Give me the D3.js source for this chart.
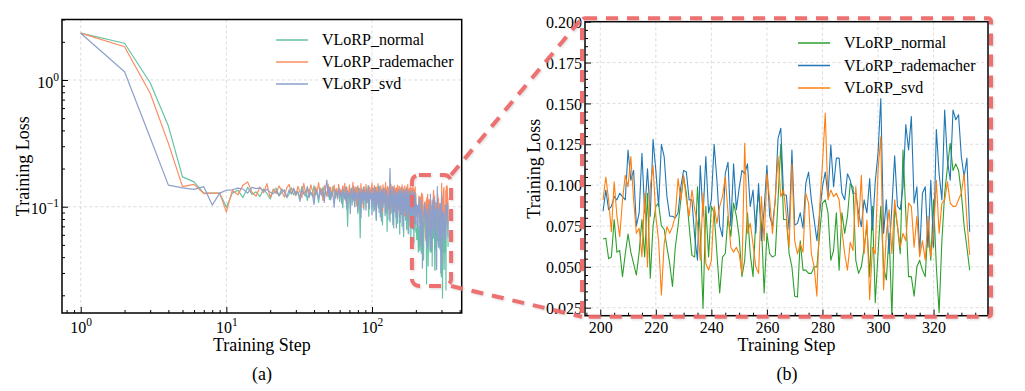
<!DOCTYPE html>
<html><head><meta charset="utf-8">
<script src="https://cdn.jsdelivr.net/npm/d3@7"></script>
<style>
html,body{margin:0;padding:0;background:#fff;}
svg{display:block;}
text{font-family:"Liberation Serif","Times New Roman",serif;fill:#000;}
</style>
</head><body>
<svg id="c" width="1025" height="391"></svg>
<script>
// ---------------- DATA ----------------
const seriesNames = ["VLoRP_normal", "VLoRP_rademacher", "VLoRP_svd"];

// steps 1..200
const normalHead = [2.34,1.95,0.95,0.433,0.172,0.157,0.128,0.128,0.128,0.099,
0.128,0.135,0.118,0.142,0.125,0.131,0.120,0.138,0.127,0.115,0.133,0.140,0.122,0.129,0.136,0.118,0.126,0.141,0.124,0.132,
0.128,0.119,0.145,0.126,0.134,0.112,0.138,0.129,0.121,0.147,0.124,0.131,0.108,0.136,0.127,0.142,0.119,0.133,0.125,0.139,0.114,0.130,0.122,0.145,0.128,0.117,0.135,0.124,0.141,0.110,
0.132,0.126,0.098,0.138,0.121,0.129,0.144,0.070,0.127,0.135,0.118,0.140,0.103,0.131,0.124,0.137,0.112,0.142,0.126,0.088,0.133,0.119,0.057,0.136,0.128,0.114,0.141,0.095,0.130,0.122,0.138,0.108,0.127,0.146,0.084,0.133,0.118,0.125,0.139,0.101,
0.124,0.136,0.092,0.130,0.115,0.142,0.078,0.128,0.120,0.137,0.098,0.126,0.145,0.083,0.131,0.117,0.139,0.072,0.125,0.134,0.106,0.128,0.141,0.089,0.120,0.133,0.064,0.127,0.138,0.097,0.122,0.131,0.076,0.136,0.118,0.125,0.091,0.140,0.113,0.129,0.068,0.134,0.121,0.103,0.137,0.082,0.126,0.119,0.140,0.074,
0.128,0.095,0.132,0.116,0.061,0.124,0.138,0.087,0.121,0.130,0.070,0.127,0.112,0.135,0.058,0.119,0.126,0.093,0.131,0.079,0.122,0.137,0.066,0.115,0.128,0.098,0.062,0.124,0.133,0.085,0.118,0.071,0.129,0.107,0.055,0.126,0.120,0.090,0.134,0.067,0.116,0.125,0.081,0.052,0.123,0.110,0.074,0.130,0.095,0.063];

const rademacherHead = [2.34,1.83,0.785,0.316,0.144,0.150,0.127,0.128,0.128,0.091,
0.135,0.124,0.148,0.157,0.130,0.121,0.143,0.129,0.152,0.118,0.138,0.127,0.146,0.133,0.119,0.141,0.150,0.126,0.137,0.122,
0.145,0.131,0.118,0.153,0.128,0.140,0.122,0.149,0.134,0.116,0.143,0.130,0.155,0.125,0.138,0.112,0.147,0.132,0.121,0.151,0.127,0.142,0.119,0.136,0.148,0.123,0.139,0.115,0.150,0.129,
0.137,0.120,0.146,0.128,0.153,0.111,0.141,0.132,0.124,0.149,0.105,0.138,0.127,0.156,0.119,0.134,0.143,0.101,0.130,0.147,0.122,0.139,0.113,0.152,0.126,0.135,0.098,0.144,0.131,0.118,0.150,0.124,0.137,0.107,0.145,0.129,0.141,0.115,0.133,0.154,
0.121,0.140,0.109,0.147,0.128,0.136,0.095,0.143,0.125,0.152,0.112,0.138,0.130,0.104,0.146,0.122,0.135,0.091,0.149,0.127,0.140,0.116,0.133,0.155,0.099,0.138,0.124,0.145,0.108,0.131,0.142,0.087,0.136,0.120,0.150,0.113,0.128,0.144,0.097,0.134,0.119,0.147,0.106,0.139,0.126,0.093,0.141,0.115,0.132,0.148,
0.110,0.137,0.123,0.145,0.089,0.131,0.118,0.142,0.102,0.135,0.149,0.094,0.127,0.140,0.112,0.133,0.085,0.146,0.121,0.138,0.097,0.129,0.143,0.108,0.125,0.150,0.091,0.134,0.116,0.139,0.082,0.128,0.145,0.104,0.131,0.119,0.141,0.088,0.136,0.113,0.147,0.096,0.124,0.138,0.079,0.130,0.117,0.143,0.101,0.127];

const svdHead = [2.34,1.16,0.35,0.148,0.141,0.137,0.144,0.103,0.128,0.135,
0.136,0.140,0.138,0.128,0.142,0.139,0.141,0.133,0.137,0.130,0.127,0.134,0.122,0.138,0.131,0.119,0.136,0.126,0.140,0.124,
0.132,0.110,0.138,0.127,0.121,0.144,0.118,0.130,0.125,0.104,0.137,0.129,0.115,0.141,0.123,0.133,0.108,0.139,0.162,0.120,0.143,0.113,0.131,0.124,0.099,0.136,0.128,0.117,0.140,0.122,
0.130,0.106,0.138,0.125,0.115,0.142,0.096,0.133,0.121,0.128,0.088,0.139,0.124,0.111,0.145,0.100,0.132,0.119,0.127,0.092,0.141,0.116,0.130,0.082,0.136,0.123,0.105,0.143,0.114,0.129,0.094,0.137,0.120,0.108,0.146,0.097,0.131,0.117,0.125,0.086,
0.138,0.112,0.127,0.095,0.142,0.119,0.080,0.133,0.124,0.103,0.145,0.090,0.129,0.116,0.136,0.077,0.131,0.121,0.099,0.140,0.110,0.126,0.085,0.137,0.118,0.132,0.094,0.115,0.107,0.123,0.079,0.139,0.201,0.128,0.088,0.134,0.100,0.121,0.072,0.143,0.113,0.126,0.091,0.135,0.105,0.119,0.068,0.130,0.117,0.083,
0.128,0.096,0.137,0.109,0.122,0.075,0.133,0.114,0.127,0.087,0.140,0.101,0.118,0.065,0.131,0.123,0.092,0.136,0.108,0.120,0.078,0.129,0.112,0.138,0.084,0.125,0.097,0.116,0.061,0.132,0.119,0.089,0.135,0.104,0.121,0.070,0.127,0.110,0.093,0.133,0.081,0.118,0.126,0.066,0.130,0.099,0.114,0.076,0.124,0.088];

// steps 201..333 (zoomed window)
const normalTail = [0.067,0.0675,0.055,0.056,0.079,0.059,0.060,0.044,0.058,0.070,0.059,0.052,0.045,0.059,0.079,0.056,0.095,0.043,0.075,0.087,0.089,0.075,0.073,0.062,0.052,0.038,0.062,0.075,0.091,0.105,0.095,0.075,
0.057,0.056,0.099,0.0705,0.0246,0.087,0.056,0.087,0.083,0.058,0.034,0.056,0.058,0.081,0.0685,0.089,0.081,0.0685,0.044,0.054,0.083,0.058,0.044,0.079,0.095,0.077,0.034,0.0705,0.058,0.056,0.057,0.091,0.125,0.079,
0.079,0.058,0.050,0.032,0.0315,0.066,0.048,0.048,0.046,0.046,0.050,0.050,0.0705,0.089,0.091,0.083,0.054,0.060,0.083,0.048,0.083,0.0705,0.081,0.101,0.099,0.054,0.046,0.050,0.062,0.075,0.044,0.087,0.028,0.058,0.087,0.050,
0.042,0.0705,0.019,0.087,0.075,0.058,0.1215,0.083,0.044,0.044,0.032,0.050,0.054,0.048,0.044,0.075,0.054,0.091,0.050,0.022,0.066,0.095,0.111,0.1256,0.109,0.113,0.109,0.095,0.075,0.062,0.048];

const rademacherTail = [0.084,0.097,0.085,0.087,0.093,0.091,0.095,0.093,0.091,0.1215,0.103,0.109,0.075,0.083,0.1195,0.083,0.110,0.081,0.128,0.109,0.087,0.125,0.1175,0.093,0.081,0.081,0.080,0.083,0.099,0.109,0.108,0.091,
0.091,0.0685,0.054,0.112,0.081,0.1175,0.083,0.091,0.125,0.103,0.075,0.0685,0.107,0.114,0.075,0.113,0.085,0.098,0.109,0.107,0.113,0.087,0.097,0.0705,0.101,0.066,0.085,0.112,0.081,0.075,0.091,0.1286,0.1348,0.094,
0.094,0.0726,0.1215,0.0756,0.0766,0.083,0.0736,0.101,0.108,0.091,0.0787,0.066,0.083,0.099,0.108,0.093,0.1246,0.099,0.1165,0.1165,0.095,0.091,0.107,0.103,0.095,0.095,0.083,0.0746,0.091,0.083,0.104,0.0726,0.102,0.1195,0.153,0.0705,
0.091,0.058,0.087,0.118,0.087,0.085,0.099,0.137,0.1215,0.142,0.089,0.099,0.058,0.095,0.099,0.062,0.103,0.062,0.134,0.107,0.091,0.146,0.115,0.103,0.146,0.140,0.143,0.1175,0.105,0.1165,0.0715];

const svdTail = [0.091,0.105,0.091,0.0715,0.102,0.081,0.0685,0.091,0.106,0.099,0.1175,0.091,0.0705,0.0736,0.0562,0.095,0.050,0.099,0.112,0.081,0.066,0.0328,0.064,0.0746,0.0705,0.0746,0.081,0.104,0.091,0.106,0.091,0.081,
0.097,0.085,0.0766,0.054,0.095,0.052,0.048,0.054,0.087,0.0766,0.087,0.093,0.105,0.083,0.062,0.059,0.062,0.058,0.046,0.1256,0.0705,0.0766,0.064,0.050,0.046,0.093,0.066,0.107,0.091,0.0705,0.091,0.1175,0.093,0.097,
0.081,0.062,0.113,0.066,0.058,0.064,0.059,0.095,0.089,0.058,0.050,0.032,0.087,0.113,0.144,0.091,0.097,0.093,0.095,0.091,0.0726,0.058,0.048,0.065,0.060,0.099,0.0746,0.106,0.058,0.0787,0.030,0.062,0.058,0.109,0.1296,0.036,
0.0705,0.085,0.058,0.091,0.0746,0.062,0.0705,0.066,0.089,0.087,0.062,0.081,0.0562,0.066,0.054,0.081,0.0562,0.0705,0.103,0.0705,0.089,0.091,0.102,0.089,0.087,0.087,0.091,0.095,0.107,0.0787,0.0573];

const firstStep = 1;
const zoomStart = 201;

// ticks
const xTicksLeft = [1, 10, 100];
const yTicksLeft = [0.1, 1];
const xTicksRight = [200, 220, 240, 260, 280, 300, 320];
const yTicksRight = [0.025, 0.050, 0.075, 0.100, 0.125, 0.150, 0.175, 0.200];
const yTickLabelsRight = ["0.025","0.050","0.075","0.100","0.125","0.150","0.175","0.200"];

// colors
const colorsLeft = ["#66c2a5", "#fc8d62", "#8da0cb"];
const colorsRight = ["#2ca02c", "#1f77b4", "#ff7f0e"];

// ---------------- BUILD ----------------
const full = [normalHead.concat(normalTail), rademacherHead.concat(rademacherTail), svdHead.concat(svdTail)];
const seriesFull = full.map(arr => arr.map((v, i) => ({step: firstStep + i, v})));
const tailsRight = [normalTail, rademacherTail, svdTail];
const seriesRight = tailsRight.map(arr => arr.map((v, i) => ({step: zoomStart + i, v})));

const svg = d3.select("#c");
const FONT_TICK = 16;

// layout
const L = {x0: 62, x1: 461.7, y0: 19.5, y1: 313};
const R = {x0: 585, x1: 988, y0: 21.7, y1: 315.7};

const xL = d3.scaleLog().domain([0.744, 413]).range([L.x0, L.x1]);
const yL = d3.scaleLog().domain([0.0145, 3.0]).range([L.y1, L.y0]);
const xR = d3.scaleLinear().domain([194.5, 339.6]).range([R.x0, R.x1]);
const yR = d3.scaleLinear().domain([0.0201, 0.2]).range([R.y1, R.y0]);

const defs = svg.append("defs");
defs.append("clipPath").attr("id", "clipL").append("rect")
  .attr("x", L.x0).attr("y", L.y0).attr("width", L.x1 - L.x0).attr("height", L.y1 - L.y0);
defs.append("clipPath").attr("id", "clipR").append("rect")
  .attr("x", R.x0).attr("y", R.y0).attr("width", R.x1 - R.x0).attr("height", R.y1 - R.y0);
const f = defs.append("filter").attr("id", "shadow").attr("x", "-10%").attr("y", "-10%").attr("width", "120%").attr("height", "120%");
f.append("feDropShadow").attr("dx", 1).attr("dy", 1).attr("stdDeviation", 1).attr("flood-color", "#888").attr("flood-opacity", 0.35);

function sup(textSel, base, exp) {
  textSel.text(null);
  textSel.append("tspan").text(base);
  textSel.append("tspan").attr("dy", -7).attr("font-size", 11.5).text(exp);
}
function expStr(v) {
  const e = Math.round(Math.log10(v));
  return e < 0 ? "\u2212" + (-e) : String(e);
}

// ---------- grids ----------
function grid(g, xs, ys, xScale, yScale, box) {
  g.selectAll(".gx").data(xs).join("line")
    .attr("x1", d => xScale(d)).attr("x2", d => xScale(d))
    .attr("y1", box.y0).attr("y2", box.y1)
    .attr("stroke", "#d4d4d4").attr("stroke-width", 0.8).attr("stroke-dasharray", "3,2.5");
  g.selectAll(".gy").data(ys).join("line")
    .attr("y1", d => yScale(d)).attr("y2", d => yScale(d))
    .attr("x1", box.x0).attr("x2", box.x1)
    .attr("stroke", "#d4d4d4").attr("stroke-width", 0.8).attr("stroke-dasharray", "3,2.5");
}
grid(svg.append("g"), xTicksLeft, yTicksLeft, xL, yL, L);
grid(svg.append("g"), xTicksRight, yTicksRight.filter(v => v < 0.2), xR, yR, R);

// ---------- lines ----------
const lineL = d3.line().x(d => xL(d.step)).y(d => yL(d.v));
const lineR = d3.line().x(d => xR(d.step)).y(d => yR(d.v));

svg.append("g").attr("clip-path", "url(#clipL)")
  .selectAll("path").data(seriesFull).join("path")
  .attr("d", lineL).attr("fill", "none")
  .attr("stroke", (d, i) => colorsLeft[i]).attr("stroke-width", 1.2).attr("stroke-linejoin", "round");

svg.append("g").attr("clip-path", "url(#clipR)")
  .selectAll("path").data(seriesRight).join("path")
  .attr("d", lineR).attr("fill", "none")
  .attr("stroke", (d, i) => colorsRight[i]).attr("stroke-width", 1.1).attr("stroke-linejoin", "round");

// ---------- axes ----------
function styleAxis(g) {
  g.select(".domain").remove();
  g.selectAll("line").attr("stroke", "#000").attr("stroke-width", 1);
  g.selectAll("text").attr("font-family", "Liberation Serif, Times New Roman, serif").attr("font-size", FONT_TICK).attr("fill", "#000");
}

// left panel minor ticks
const minorXL = [];
[-1, 0, 1, 2].forEach(e => { for (let m = 2; m <= 9; m++) { const v = m * Math.pow(10, e); if (v >= xL.domain()[0] && v <= xL.domain()[1]) minorXL.push(v); } });
const minorYL = [];
[-2, -1, 0].forEach(e => { for (let m = 2; m <= 9; m++) { const v = m * Math.pow(10, e); if (v >= yL.domain()[0] && v <= yL.domain()[1]) minorYL.push(v); } });

const gxL = svg.append("g").attr("transform", `translate(0,${L.y1})`)
  .call(d3.axisBottom(xL).tickValues(xTicksLeft).tickSizeInner(-6).tickSizeOuter(0).tickPadding(9));
styleAxis(gxL);
gxL.selectAll(".tick text").each(function(d) { sup(d3.select(this), "10", expStr(d)); });
svg.append("g").attr("transform", `translate(0,${L.y1})`)
  .call(d3.axisBottom(xL).tickValues(minorXL).tickSizeInner(-3).tickSizeOuter(0).tickFormat(""))
  .call(styleAxis);

const gyL = svg.append("g").attr("transform", `translate(${L.x0},0)`)
  .call(d3.axisLeft(yL).tickValues(yTicksLeft).tickSizeInner(-6).tickSizeOuter(0).tickPadding(3));
styleAxis(gyL);
gyL.selectAll(".tick text").attr("dy", "0.45em").each(function(d) { sup(d3.select(this), "10", expStr(d)); });
svg.append("g").attr("transform", `translate(${L.x0},0)`)
  .call(d3.axisLeft(yL).tickValues(minorYL).tickSizeInner(-3).tickSizeOuter(0).tickFormat(""))
  .call(styleAxis);

// right panel
const minorXR = d3.range(195, 340, 5).filter(v => v % 20 !== 0);
const minorYR = d3.range(5, 41).map(i => +(i * 0.005).toFixed(3)).filter(v => v >= 0.0201 && v <= 0.2 && Math.round(v * 1000) % 25 !== 0);

const gxR = svg.append("g").attr("transform", `translate(0,${R.y1})`)
  .call(d3.axisBottom(xR).tickValues(xTicksRight).tickSizeInner(-6).tickSizeOuter(0).tickPadding(6).tickFormat(d3.format("d")));
styleAxis(gxR);
svg.append("g").attr("transform", `translate(0,${R.y1})`)
  .call(d3.axisBottom(xR).tickValues(minorXR).tickSizeInner(-3).tickSizeOuter(0).tickFormat(""))
  .call(styleAxis);

const gyR = svg.append("g").attr("transform", `translate(${R.x0},0)`)
  .call(d3.axisLeft(yR).tickValues(yTicksRight).tickSizeInner(-6).tickSizeOuter(0).tickPadding(3)
    .tickFormat((d, i) => yTickLabelsRight[i]));
styleAxis(gyR);
gyR.selectAll(".tick text").attr("dy", "0.35em");
svg.append("g").attr("transform", `translate(${R.x0},0)`)
  .call(d3.axisLeft(yR).tickValues(minorYR).tickSizeInner(-3).tickSizeOuter(0).tickFormat(""))
  .call(styleAxis);

// frames
[L, R].forEach(b => {
  svg.append("rect").attr("x", b.x0).attr("y", b.y0).attr("width", b.x1 - b.x0).attr("height", b.y1 - b.y0)
    .attr("fill", "none").attr("stroke", "#000").attr("stroke-width", 1.5);
});

// ---------- labels ----------
function label(x, y, txt, rot) {
  const t = svg.append("text").attr("x", x).attr("y", y).attr("text-anchor", "middle")
    .attr("font-size", 18).text(txt);
  if (rot) t.attr("transform", `rotate(-90,${x},${y})`);
}
label((L.x0 + L.x1) / 2, 351, "Training Step");
label((R.x0 + R.x1) / 2, 351, "Training Step");
label(262, 380, "(a)");
label(787, 380, "(b)");
label(29, (L.y0 + L.y1) / 2, "Training Loss", true);
label(540, (R.y0 + R.y1) / 2, "Training Loss", true);

// ---------- legends ----------
function legend(x, y, colors, dy) {
  const g = svg.append("g");
  seriesNames.forEach((n, i) => {
    const yy = y + i * dy;
    g.append("line").attr("x1", x).attr("x2", x + 32).attr("y1", yy).attr("y2", yy)
      .attr("stroke", colors[i]).attr("stroke-width", 1.5);
    g.append("text").attr("x", x + 46).attr("y", yy + 5).attr("font-size", 16).text(n);
  });
}
legend(276, 40, colorsLeft, 22);
legend(798, 43, colorsRight, 22.5);

// ---------- zoom annotation ----------
const red = "#ee6b6b";
const bx0 = xL(188), bx1 = xL(349), by0 = yL(0.178), by1 = yL(0.0237);
const ann = svg.append("g").attr("filter", "url(#shadow)").attr("fill", "none")
  .attr("stroke", red).attr("stroke-width", 4).attr("stroke-dasharray", "12,9").attr("opacity", 0.95);
ann.append("rect").attr("x", bx0).attr("y", by0).attr("width", bx1 - bx0).attr("height", by1 - by0).attr("rx", 7);
ann.append("rect").attr("x", R.x0 - 3).attr("y", R.y0 - 3.5).attr("width", R.x1 - R.x0 + 6).attr("height", R.y1 - R.y0 + 4.5).attr("rx", 3);
ann.append("line").attr("x1", bx1).attr("y1", by0).attr("x2", R.x0 - 3).attr("y2", R.y0 - 3.5);
ann.append("line").attr("x1", bx1).attr("y1", by1).attr("x2", R.x0 - 3).attr("y2", R.y1 + 1);
</script>
</body></html>
